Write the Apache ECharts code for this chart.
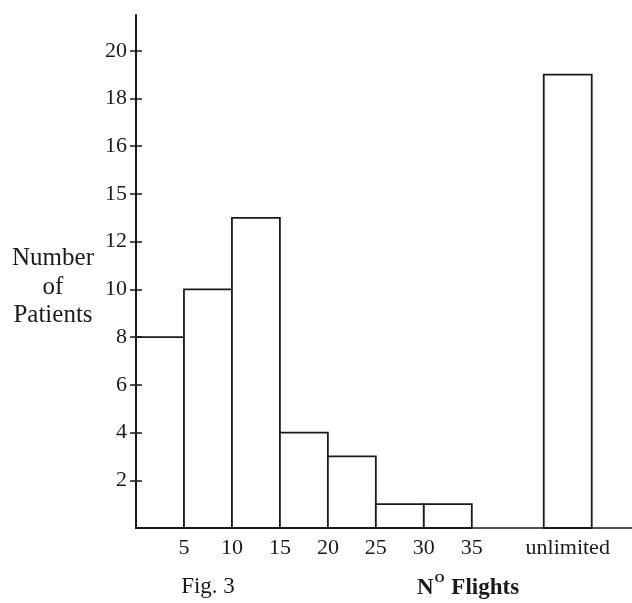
<!DOCTYPE html>
<html>
<head>
<meta charset="utf-8">
<script src="https://cdn.jsdelivr.net/npm/echarts@6/dist/echarts.min.js"></script>
<style>
html,body{margin:0;padding:0;background:#fff;}
#chart{width:632px;height:603px;}
</style>
</head>
<body>
<div id="chart"></div>
<script>
// Histogram bins (No. of flights) and patient counts
var binStart = [0, 5, 10, 15, 20, 25, 30, 42.5];
var binEnd   = [5, 10, 15, 20, 25, 30, 35, 47.5];
var counts   = [8, 10, 13, 4, 3, 1, 1, 19];

// Axis tick values and their printed labels (original figure prints "15" at 14)
var yTickValues = [2, 4, 6, 8, 10, 12, 14, 16, 18, 20];
var yTickLabels = ['2', '4', '6', '8', '10', '12', '15', '16', '18', '20'];
var xTickValues = [5, 10, 15, 20, 25, 30, 35, 45];
var xTickLabels = ['5', '10', '15', '20', '25', '30', '35', 'unlimited'];

var FONT = '"Liberation Serif", "DejaVu Serif", serif';
var INK = '#1a1a1a';

var data = binStart.map(function (s, i) { return [s, binEnd[i], counts[i]]; });

function lookup(values, labels, v) {
  for (var i = 0; i < values.length; i++) {
    if (Math.abs(values[i] - v) < 1e-6) return labels[i];
  }
  return '';
}

var chart = echarts.init(document.getElementById('chart'), null, {renderer: 'canvas'});
chart.setOption({
  backgroundColor: '#fff',
  animation: false,
  grid: {left: 136, right: 0, top: 15, bottom: 75, containLabel: false},
  xAxis: {
    type: 'value', min: 0, max: 51.7,
    splitLine: {show: false},
    axisLine: {show: true, lineStyle: {color: INK, width: 1.5}},
    axisTick: {show: false},
    axisLabel: {
      customValues: xTickValues,
      formatter: function (v) { return lookup(xTickValues, xTickLabels, v); },
      color: INK, fontFamily: FONT, fontSize: 22, margin: 9
    }
  },
  yAxis: [{
    type: 'value', min: 0, max: 21.5, z: 10,
    splitLine: {show: false},
    axisLine: {show: true, onZero: false, lineStyle: {color: INK, width: 2}},
    axisTick: {show: true, customValues: yTickValues, length: 6, inside: false, lineStyle: {color: INK, width: 1.5}},
    axisLabel: {
      customValues: yTickValues,
      formatter: function (v) { return lookup(yTickValues, yTickLabels, v); },
      color: INK, fontFamily: FONT, fontSize: 22, margin: 9
    }
  }, {
    type: 'value', min: 0, max: 21.5, position: 'left', z: 10,
    splitLine: {show: false},
    axisLine: {show: true, onZero: false, lineStyle: {color: INK, width: 2, opacity: 0}},
    axisTick: {show: true, customValues: yTickValues, length: 6, inside: true, lineStyle: {color: INK, width: 1.5}},
    axisLabel: {show: false}
  }],
  series: [{
    type: 'custom',
    data: data,
    encode: {x: [0, 1], y: 2},
    renderItem: function (params, api) {
      var p0 = api.coord([api.value(0), api.value(2)]);
      var p1 = api.coord([api.value(1), 0]);
      return {
        type: 'rect',
        shape: {x: p0[0], y: p0[1], width: p1[0] - p0[0], height: p1[1] - p0[1]},
        style: {fill: '#fff', stroke: INK, lineWidth: 1.8}
      };
    }
  }],
  graphic: [
    {type: 'text', x: 53, y: 258, style: {text: 'Number', font: '25px ' + FONT, fill: INK, align: 'center', verticalAlign: 'middle'}},
    {type: 'text', x: 53, y: 287, style: {text: 'of', font: '25px ' + FONT, fill: INK, align: 'center', verticalAlign: 'middle'}},
    {type: 'text', x: 53, y: 315, style: {text: 'Patients', font: '25px ' + FONT, fill: INK, align: 'center', verticalAlign: 'middle'}},
    {type: 'text', x: 208, y: 587, style: {text: 'Fig. 3', font: '23px ' + FONT, fill: INK, align: 'center', verticalAlign: 'middle'}},
    {type: 'text', x: 468, y: 586, style: {
      text: '{n|N}{s|O}{n| Flights}',
      align: 'center', verticalAlign: 'middle',
      rich: {
        n: {fontFamily: FONT, fontSize: 23, fontWeight: 'bold', fill: INK, lineHeight: 28, verticalAlign: 'bottom'},
        s: {fontFamily: FONT, fontSize: 13, fontWeight: 'bold', fill: INK, lineHeight: 28, verticalAlign: 'top', padding: [0, 1, 8, 1]}
      }
    }}
  ]
});
</script>
</body>
</html>
